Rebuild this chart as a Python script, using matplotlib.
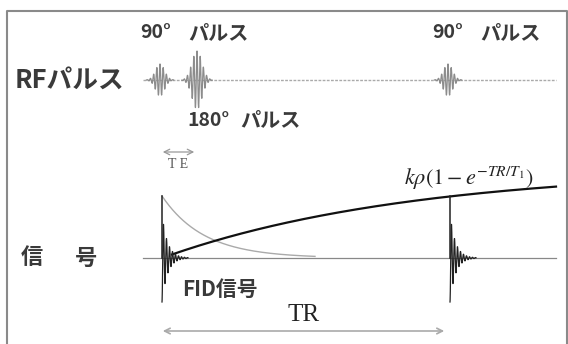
import numpy as np
import matplotlib.pyplot as plt

plt.rcParams['mathtext.fontset'] = 'stix'
JP = ['Noto Sans CJK JP', 'DejaVu Sans']
SERIF = ['Liberation Serif', 'DejaVu Serif']

# タイミング (任意単位, 最初の90°パルス = 0)
pulse_t = [0, 37, 288]          # 90°, 180°, 90°
pulse_amp = [16, 29, 16]
pulse_sigma = [4.5, 5.0, 4.5]
TE = 37
TR = 288

# 信号
fid_start = [2, 290]
fid_amp = 44
fid_peak = 62      # 最初のFIDの縦線 (M0)
T2 = 42
M0 = 90
T1 = 250

RF_Y = 178         # RFパルスの基線
T_MIN, T_MAX = -17, 396

fig = plt.figure(figsize=(5.68, 3.44), dpi=100)
ax = fig.add_axes([0, 0, 1, 1])
ax.set_xlim(-160, 408)
ax.set_ylim(-86, 258)
ax.axis('off')

# 枠
ax.plot([-153, -153, 407, 407], [-100, 247, 247, -100], color='#8a8a8a',
        lw=1.5, clip_on=False)

# RFパルス
ax.plot([T_MIN, T_MAX], [RF_Y, RF_Y], color='#aaaaaa', lw=1.0, ls=(0, (2, 1)))
for c, a, s in zip(pulse_t, pulse_amp, pulse_sigma):
    t = np.linspace(c - 3 * s, c + 3 * s, 600)
    y = a * np.exp(-(t - c) ** 2 / (2 * s ** 2)) * np.cos(2 * np.pi * (t - c) / 3.2)
    ax.plot(t, RF_Y + y, color='#8c8c8c', lw=0.9)

# 信号の基線
ax.plot([T_MIN, T_MAX], [0, 0], color='#888888', lw=0.9)

# T2減衰 (灰色)
t = np.linspace(fid_start[0], 155, 300)
ax.plot(t, fid_peak * np.exp(-(t - fid_start[0]) / T2), color='#aaaaaa', lw=1.0)

# T1回復
t = np.linspace(12, T_MAX, 300)
ax.plot(t, M0 * (1 - np.exp(-(t - fid_start[0]) / T1)), color='#111111', lw=1.6)

# FID
m_tr = M0 * (1 - np.exp(-(fid_start[1] - fid_start[0]) / T1))
for s, top in zip(fid_start, [fid_peak, m_tr]):
    ax.plot([s, s], [0, top], color='#222222', lw=1.1)
    t = np.linspace(0, 26, 1200)
    y = -fid_amp * np.exp(-t / 5.5) * np.cos(2 * np.pi * t / 3)
    ax.plot(s + t, y, color='#222222', lw=0.9)

# テキスト
kw = dict(family=JP, fontweight='bold', va='center', color='#3a3a3a')
for x0, y0, deg, gap in [(-20, 225, '90°', 48), (272, 225, '90°', 48),
                         (27, 138, '180°', 53)]:
    ax.text(x0, y0, deg, fontsize=14, **kw)
    ax.text(x0 + gap, y0, 'パルス', fontsize=14.5, **kw)
ax.text(-145, RF_Y, 'RFパルス', fontsize=18.5, **kw)
ax.text(-139, 0, '信', fontsize=16, **kw)
ax.text(-85, 0, '号', fontsize=16, **kw)
ax.text(22, -31, 'FID信号', fontsize=15, **kw)

ax.annotate('', xy=(0, 106), xytext=(TE, 106),
            arrowprops=dict(arrowstyle='<->', color='#999999', lw=0.9))
ax.text(TE / 2, 94, 'T E', family=SERIF, fontsize=10, ha='center', va='center',
        color='#555555')

ax.annotate('', xy=(0, -73), xytext=(TR - 1, -73),
            arrowprops=dict(arrowstyle='<->', color='#aaaaaa', lw=1.2))
ax.text(TR / 2, -57, 'TR', family=SERIF, fontsize=18, ha='center', va='center',
        color='#222222')

ax.text(244, 80, r'$k\rho(1-e^{-TR/T_1})$', fontsize=16, va='center', color='#222222')

fig.savefig('out.png', dpi=100)
